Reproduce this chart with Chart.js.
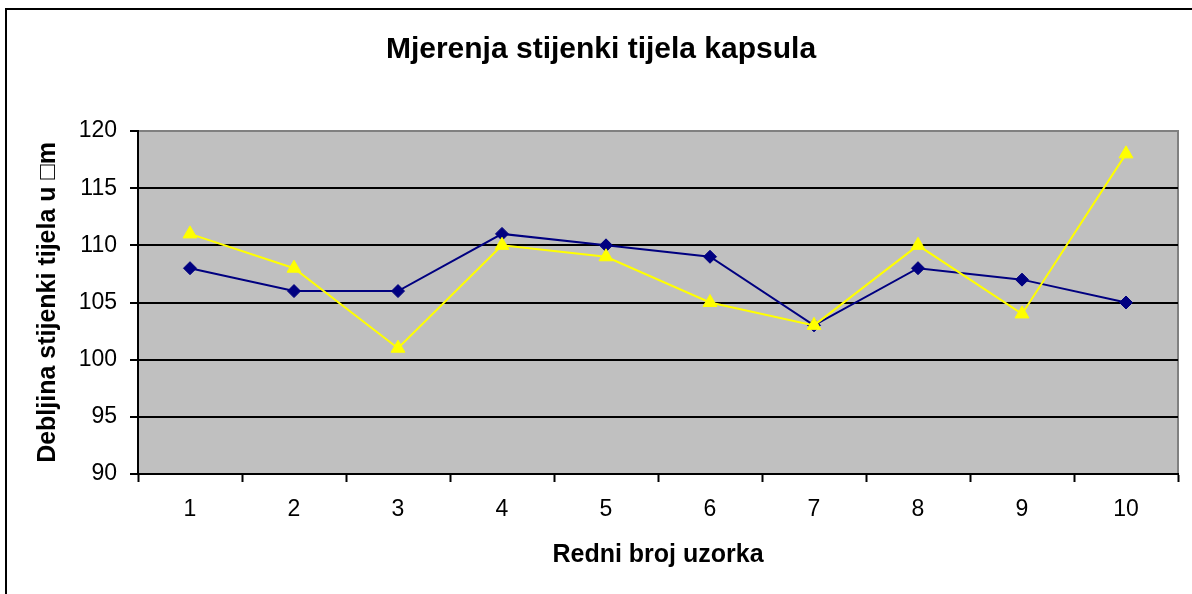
<!DOCTYPE html>
<html>
<head>
<meta charset="utf-8">
<script src="https://cdn.jsdelivr.net/npm/chart.js@4.4.1/dist/chart.umd.min.js"></script>
<style>
  html, body { margin: 0; padding: 0; background: #fff; }
  #wrap { position: relative; width: 1192px; height: 594px; }
</style>
</head>
<body>
<div id="wrap"><canvas id="chart" width="1192" height="594"></canvas></div>
<script>
// --- data ---
const uzorci = ['1', '2', '3', '4', '5', '6', '7', '8', '9', '10'];
const serijaPlava = [108, 106, 106, 111, 110, 109, 103, 108, 107, 105];
const serijaZuta = [111, 108, 101, 110, 109, 105, 103, 110, 104, 118];
const yMin = 90, yMax = 120, yStep = 5;

const FONT = "'Liberation Sans', Arial, sans-serif";

// grey plot area, grey top/right border, outer frame of the chart
const frame = {
    id: 'frame',
    beforeDraw(chart) {
        const { ctx, chartArea: a } = chart;
        ctx.save();
        ctx.fillStyle = '#000';
        ctx.fillRect(5, 8, 1192, 2);
        ctx.fillRect(5, 8, 2, 594);
        ctx.fillStyle = '#c0c0c0';
        ctx.fillRect(a.left, a.top, a.right - a.left, a.bottom - a.top);
        ctx.strokeStyle = '#808080';
        ctx.lineWidth = 2;
        ctx.beginPath();
        ctx.moveTo(a.left, a.top);
        ctx.lineTo(a.right, a.top);
        ctx.lineTo(a.right, a.bottom);
        ctx.stroke();
        ctx.restore();
    }
};

new Chart(document.getElementById('chart'), {
    type: 'line',
    data: {
        labels: uzorci,
        datasets: [
            {
                data: serijaPlava,
                order: 1,
                borderColor: '#000080',
                backgroundColor: '#000080',
                borderWidth: 2,
                pointStyle: 'rectRot',
                pointRadius: 6.5,
                pointBorderWidth: 1,
                tension: 0
            },
            {
                data: serijaZuta,
                order: 0,
                borderColor: '#ffff00',
                backgroundColor: '#ffff00',
                borderWidth: 2,
                pointStyle: 'triangle',
                pointRadius: 8,
                pointBorderWidth: 1,
                tension: 0
            }
        ]
    },
    options: {
        responsive: false,
        animation: false,
        layout: { padding: { left: 24, right: 14, top: 0, bottom: 0 } },
        plugins: {
            legend: { display: false },
            tooltip: { enabled: false },
            title: {
                display: true,
                text: 'Mjerenja stijenki tijela kapsula',
                color: '#000',
                font: { family: FONT, size: 30, weight: 'bold' },
                padding: { top: 32, bottom: 63 }
            }
        },
        scales: {
            x: {
                offset: true,
                afterFit(s) { s.height = 120; },
                grid: { drawOnChartArea: false, drawTicks: true, tickLength: 8, tickColor: '#000', tickWidth: 2, offset: true },
                border: { color: '#000', width: 2 },
                ticks: { color: '#000', font: { family: FONT, size: 23 }, padding: 14, maxRotation: 0 },
                title: {
                    display: true,
                    text: 'Redni broj uzorka',
                    color: '#000',
                    font: { family: FONT, size: 25, weight: 'bold' },
                    padding: { top: 0, bottom: 24 }
                }
            },
            y: {
                min: yMin,
                max: yMax,
                afterFit(s) { s.width = 114; },
                grid: {
                    color: (c) => c.tick && c.tick.value === yMax ? '#808080' : '#000',
                    lineWidth: 2,
                    tickLength: 8,
                    tickColor: '#000',
                    tickWidth: 2
                },
                border: { color: '#000', width: 2 },
                ticks: { stepSize: yStep, color: '#000', font: { family: FONT, size: 23 }, padding: 13 },
                title: {
                    display: true,
                    text: 'Debljina stijenki tijela u \u25A1m',
                    color: '#000',
                    font: { family: FONT, size: 25, weight: 'bold' },
                    padding: { top: 9, bottom: 0 }
                }
            }
        }
    },
    plugins: [frame]
});
</script>
</body>
</html>
